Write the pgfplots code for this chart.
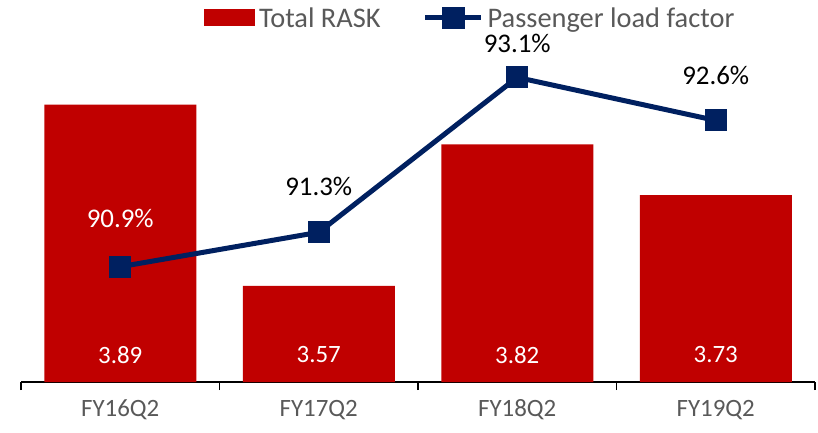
\documentclass[border=0pt]{standalone}
\usepackage{pgfplots}
\pgfplotsset{compat=1.18}
\usepackage{fontspec}
\setmainfont{Carlito}
\definecolor{barred}{HTML}{C00000}
\definecolor{navy}{HTML}{002060}
\definecolor{txtgrey}{HTML}{595959}
\begin{document}
\begin{tikzpicture}[x=1bp,y=1bp]
\path[use as bounding box] (0,0) rectangle (818,432);
\begin{axis}[at={(21bp,50bp)}, anchor=south west, scale only axis,
  width=794bp, height=382bp,
  xmin=-0.5, xmax=3.5, ymin=3.4, ymax=4.075,
  axis x line*=bottom, axis y line=none,
  axis line style={black, line width=1.3bp, -},
  xtick={0,1,2,3}, xticklabels={FY16Q2,FY17Q2,FY18Q2,FY19Q2},
  major tick length=0pt,
  minor xtick={-0.5,0.5,1.5,2.5,3.5}, minor tick length=8bp,
  tick align=outside, minor tick style={black, line width=1.3bp},
  xticklabel style={font=\fontsize{25}{27}\selectfont, text=txtgrey, anchor=center, yshift=-28bp},
  /pgf/number format/assume math mode=true,
  legend style={at={(0.567,0.953)}, anchor=center, draw=none, fill=none,
    font=\fontsize{28.5}{30}\selectfont, text=txtgrey, legend columns=2,
    column sep=0bp, inner sep=0pt, nodes={inner xsep=4bp, inner ysep=0pt}},
  clip=false,
]
\addplot[ybar, bar width=152bp, fill=barred, draw=none, area legend,
  legend image code/.code={\fill[barred] (0bp,-8.5bp) rectangle (51bp,8.5bp);}]
  coordinates {(0,3.89) (1,3.57) (2,3.82) (3,3.73)};
\addlegendentry[execute at end node={\hspace{38bp}}]{Total RASK}
\addlegendimage{navy, line width=5bp,
  legend image code/.code={\draw[navy, line width=5bp] (0bp,0bp) -- (56bp,0bp); \fill[navy] (19bp,-8.5bp) rectangle (37bp,8.5bp);}}
\addlegendentry{Passenger load factor}
\addplot[draw=none, mark=none, nodes near coords, point meta=explicit symbolic,
  nodes near coords style={text=white, font=\fontsize{25}{27}\selectfont, anchor=center}]
  coordinates {(0,3.448)[3.89] (1,3.448)[3.57] (2,3.448)[3.82] (3,3.448)[3.73]};
\end{axis}
\begin{axis}[at={(21bp,50bp)}, anchor=south west, scale only axis,
  width=794bp, height=382bp,
  xmin=-0.5, xmax=3.5, ymin=89.56, ymax=94.0,
  hide axis, clip=false]
\addplot[navy, line width=5bp, mark=square*, mark size=8.5bp, mark options={fill=navy, draw=none}]
  coordinates {(0,90.9) (1,91.3) (2,93.1) (3,92.6)};
\node[white, font=\fontsize{27}{29}\selectfont] at (axis cs:0,90.9) [yshift=48bp] {90.9\%};
\node[black, font=\fontsize{27}{29}\selectfont] at (axis cs:1,91.3) [yshift=46bp] {91.3\%};
\node[black, font=\fontsize{27}{29}\selectfont, inner ysep=1bp] at (axis cs:2,93.1) [yshift=34bp] {93.1\%};
\node[black, font=\fontsize{27}{29}\selectfont] at (axis cs:3,92.6) [yshift=45bp] {92.6\%};
\end{axis}
\end{tikzpicture}
\end{document}
